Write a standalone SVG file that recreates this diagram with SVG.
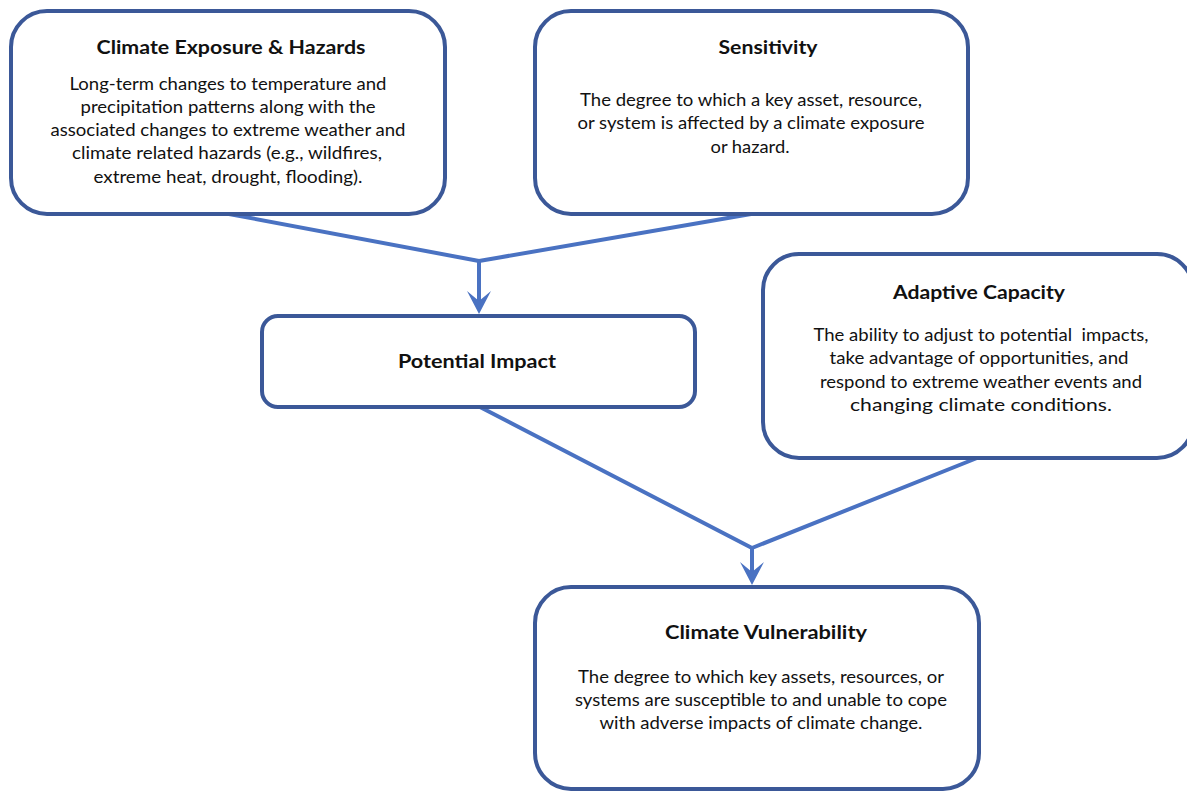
<svg xmlns="http://www.w3.org/2000/svg" width="1187" height="792" viewBox="0 0 1187 792">
<defs>
<style>
.box{fill:#ffffff;stroke:#3b5898;stroke-width:4}
.con{fill:none;stroke:#4a72c2;stroke-width:4;stroke-linejoin:round}
.head{fill:#4a72c2}
.t{font-family:Lato,"Open Sans",sans-serif;font-weight:bold;font-size:19px;fill:#111;text-anchor:middle}
.b{font-family:Lato,"Open Sans",sans-serif;font-size:17px;fill:#111;text-anchor:middle}
</style>
</defs>
<rect width="1187" height="792" fill="#ffffff"/>
<g id="connectors">
<polyline class="con" points="229,214 479,261 751,214"/>
<line class="con" x1="479" y1="261" x2="479" y2="302"/>
<path class="head" d="M479,314 L467,291 L479,301 L491,291 Z"/>
<polyline class="con" points="480,407 752,548 977,458"/>
<line class="con" x1="752" y1="548" x2="752" y2="572"/>
<path class="head" d="M752,585 L740,562 L752,572 L764,562 Z"/>
</g>
<g id="exposure">
<rect class="box" x="11" y="11" width="434" height="203" rx="36"/>
<text class="t" x="231" y="54" textLength="269" lengthAdjust="spacingAndGlyphs">Climate Exposure &amp; Hazards</text>
<text class="b" x="228" y="90" textLength="317" lengthAdjust="spacingAndGlyphs">Long-term changes to temperature and</text>
<text class="b" x="228" y="113" textLength="295" lengthAdjust="spacingAndGlyphs">precipitation patterns along with the</text>
<text class="b" x="228" y="136" textLength="355" lengthAdjust="spacingAndGlyphs">associated changes to extreme weather and</text>
<text class="b" x="227" y="159" textLength="310" lengthAdjust="spacingAndGlyphs">climate related hazards (e.g., wildfires,</text>
<text class="b" x="228" y="183" textLength="269" lengthAdjust="spacingAndGlyphs">extreme heat, drought, flooding).</text>
</g>
<g id="sensitivity">
<rect class="box" x="535" y="11" width="433" height="203" rx="36"/>
<text class="t" x="768" y="54" textLength="99" lengthAdjust="spacingAndGlyphs">Sensitivity</text>
<text class="b" x="751" y="106" textLength="342" lengthAdjust="spacingAndGlyphs">The degree to which a key asset, resource,</text>
<text class="b" x="751" y="129" textLength="347" lengthAdjust="spacingAndGlyphs">or system is affected by a climate exposure</text>
<text class="b" x="750" y="153" textLength="79" lengthAdjust="spacingAndGlyphs">or hazard.</text>
</g>
<g id="potential-impact">
<rect class="box" x="262" y="316" width="433" height="91" rx="16"/>
<text class="t" x="477" y="368" textLength="158" lengthAdjust="spacingAndGlyphs">Potential Impact</text>
</g>
<g id="adaptive-capacity">
<rect class="box" x="763" y="254" width="430" height="204" rx="36"/>
<text class="t" x="979" y="299" textLength="172" lengthAdjust="spacingAndGlyphs">Adaptive Capacity</text>
<text class="b" x="981" y="341" textLength="335" lengthAdjust="spacingAndGlyphs">The ability to adjust to potential&#160; impacts,</text>
<text class="b" x="979" y="364" textLength="299" lengthAdjust="spacingAndGlyphs">take advantage of opportunities, and</text>
<text class="b" x="981" y="388" textLength="322" lengthAdjust="spacingAndGlyphs">respond to extreme weather events and</text>
<text class="b" x="981" y="411" textLength="262" lengthAdjust="spacingAndGlyphs">changing climate conditions.</text>
</g>
<g id="vulnerability">
<rect class="box" x="535" y="587" width="444" height="202" rx="36"/>
<text class="t" x="766" y="639" textLength="202" lengthAdjust="spacingAndGlyphs">Climate Vulnerability</text>
<text class="b" x="761" y="683" textLength="366" lengthAdjust="spacingAndGlyphs">The degree to which key assets, resources, or</text>
<text class="b" x="761" y="706" textLength="372" lengthAdjust="spacingAndGlyphs">systems are susceptible to and unable to cope</text>
<text class="b" x="761" y="729" textLength="323" lengthAdjust="spacingAndGlyphs">with adverse impacts of climate change.</text>
</g>
</svg>
